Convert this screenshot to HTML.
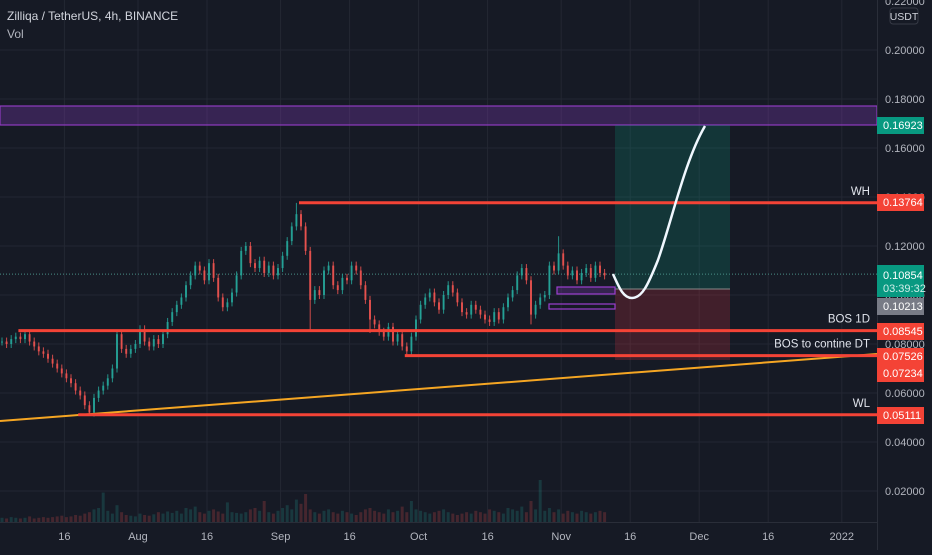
<!DOCTYPE html>
<html><head><meta charset="utf-8"><style>
html,body{margin:0;padding:0;background:#161a25;}
body{width:932px;height:550px;overflow:hidden;font-family:"Liberation Sans",sans-serif;}
svg text{font-family:"Liberation Sans",sans-serif;}
</style></head><body>
<svg id="chart" width="932" height="550" xmlns="http://www.w3.org/2000/svg">
<rect x="0" y="0" width="932" height="550" fill="#161a25"/>
<g id="grid"></g>
<g id="zones"></g>
<g id="vol"></g>
<g id="candles"></g>
<g id="draw"></g>
<g id="axis"></g>
<text x="7" y="20" fill="#d1d4dc" font-size="12">Zilliqa / TetherUS, 4h, BINANCE</text>
<text x="7" y="38" fill="#b2b5be" font-size="12">Vol</text>
</svg>
<script>
const priceTicks=[0.02,0.04,0.06,0.08,0.10,0.12,0.14,0.16,0.18,0.20,0.22];
const timeLabels=["16","Aug","16","Sep","16","Oct","16","Nov","16","Dec","16","2022"];
const timeLabelDays=[14,30,45,61,76,91,106,122,137,152,167,183];
const closes=[.081,.080,.082,.083,.082,.084,.081,.079,.077,.076,
.074,.072,.070,.068,.066,.064,.061,.059,.055,.052,
.058,.061,.063,.066,.070,.084,.078,.076,.078,.080,
.086,.081,.079,.082,.080,.084,.089,.093,.096,.099,
.104,.108,.112,.110,.106,.113,.107,.099,.095,.097,
.101,.108,.118,.120,.113,.111,.114,.109,.112,.108,
.111,.116,.122,.128,.133,.128,.118,.098,.102,.100,
.110,.112,.104,.102,.107,.106,.112,.110,.104,.098,
.090,.088,.085,.083,.087,.081,.084,.079,.077,.083,
.090,.096,.099,.101,.097,.094,.100,.104,.101,.097,
.093,.092,.096,.094,.092,.090,.089,.093,.090,.095,
.099,.102,.108,.111,.106,.092,.096,.099,.100,.112,
.110,.117,.112,.108,.110,.106,.109,.111,.107,.112,.109,.108];
const spikeIdx=[19,25,64,67,80,121,115];
const spikeVal=[.0511,.0855,.1376,.0855,.0845,.124,.088];
const volumes=[6,5,7,6,5,6,8,5,6,7,6,7,8,9,7,8,10,9,12,14,
18,20,42,16,12,24,14,10,9,8,12,10,9,11,14,12,15,13,16,12,
20,18,22,14,12,16,18,15,12,28,14,13,12,14,18,20,16,30,14,12,
16,20,24,18,32,26,40,18,14,12,16,18,14,12,16,14,12,10,14,18,
20,16,14,12,18,14,16,22,14,30,18,16,14,12,14,16,18,14,12,10,
12,14,12,16,14,12,18,16,14,12,20,18,16,22,14,30,18,60,16,20,
14,18,12,16,14,12,16,14,12,14,16,14];
const levels=[0.13764,0.08545,0.07526,0.05111];
const levelNames=["WH","BOS 1D","BOS to contine DT","WL"];
const levelStartDay=[65,4,88,17];
const NS="http://www.w3.org/2000/svg";
const PX=877, DAYW=4.6, VSCALE=0.7;
function y(p){return 540-p*2450;}
function x(d){return d*DAYW;}
function mk(parent,tag,attrs){const e=document.createElementNS(NS,tag);for(const k in attrs)e.setAttribute(k,attrs[k]);document.getElementById(parent).appendChild(e);return e;}
priceTicks.forEach(p=>{if(y(p)<8||y(p)>520)return;const l=mk('grid','line',{x1:0,x2:PX,y1:y(p),y2:y(p),stroke:'#232733','stroke-width':1});

});
timeLabelDays.forEach((d,i)=>{const l=mk('grid','line',{x1:x(d),x2:x(d),y1:0,y2:522,stroke:'#232733','stroke-width':1});


const t=mk('axis','text',{x:x(d),y:540,fill:'#b2b5be','font-size':11,'text-anchor':'middle'});t.textContent=timeLabels[i];

});
let z=mk('zones','rect',{x:0,y:106,width:PX,height:19,fill:'rgba(126,60,180,0.32)',stroke:'#8e3bbf','stroke-width':1.2});


z=mk('zones','rect',{x:615,y:125,width:115,height:164,fill:'rgba(8,153,129,0.22)'});


z=mk('zones','rect',{x:615,y:289,width:115,height:71,fill:'rgba(242,54,69,0.2)'});


z=mk('zones','line',{x1:615,x2:730,y1:289,y2:289,stroke:'#888','stroke-width':1});


z=mk('zones','line',{x1:0,x2:PX,y1:y(0.10854),y2:y(0.10854),stroke:'#4a8f86','stroke-width':1,'stroke-dasharray':'1 2'});


volumes.forEach((v,i)=>{const up=i===0||closes[i]>=closes[i-1];const h=v*VSCALE;const b=mk('vol','rect',{x:x(i)+0.5,y:522-h,width:3,height:h,fill:up?'rgba(38,166,154,0.22)':'rgba(239,83,80,0.22)'});

});
closes.forEach((c,i)=>{const o=i===0?c:closes[i-1];const up=c>=o;const col=up?'#26a69a':'#ef5350';
let hi=Math.max(o,c),lo=Math.min(o,c);const k=spikeIdx.indexOf(i);
let yh=y(hi)-4,yl=y(lo)+4;if(k>=0){if(spikeVal[k]>hi)yh=y(spikeVal[k]);else yl=y(spikeVal[k]);}
const w=mk('candles','line',{x1:x(i)+2,x2:x(i)+2,y1:yh,y2:yl,stroke:col,'stroke-width':1,opacity:0.85});


const b=mk('candles','rect',{x:x(i)+1,y:y(hi),width:2,height:Math.max(1,y(lo)-y(hi)),fill:col,opacity:0.85});

});
z=mk('draw','rect',{x:557,y:287,width:58,height:7,fill:'rgba(126,60,180,0.3)',stroke:'#9c3fd0','stroke-width':1.2});


z=mk('draw','rect',{x:549,y:304,width:66,height:5,fill:'none',stroke:'#9c3fd0','stroke-width':1.2});


z=mk('draw','line',{x1:0,y1:421,x2:PX,y2:354,stroke:'#f5a623','stroke-width':2});


levels.forEach((p,i)=>{const l=mk('draw','line',{x1:x(levelStartDay[i]),x2:PX,y1:y(p),y2:y(p),stroke:'#f44336','stroke-width':3});


const t=mk('draw','text',{x:870,y:y(p)-8,fill:'#e0e3eb','font-size':11.5,'text-anchor':'end'});t.textContent=levelNames[i];

});
z=mk('draw','path',{d:'M613,274 C620,290 624,298 632,298 C642,298 648,285 658,260 C672,220 685,160 705,126',fill:'none',stroke:'#f0f8ff','stroke-width':2.5});


z=mk('axis','line',{x1:PX+0.5,x2:PX+0.5,y1:0,y2:550,stroke:'#2a2e39','stroke-width':1});


z=mk('axis','line',{x1:0,x2:PX,y1:522.5,y2:522.5,stroke:'#2a2e39','stroke-width':1});


priceTicks.forEach(p=>{const t=mk('axis','text',{x:885,y:y(p)+4,fill:'#b2b5be','font-size':11});t.textContent=p.toFixed(5);

});
z=mk('axis','rect',{x:890,y:8,width:28,height:16,rx:3,fill:'#161a25',stroke:'#363a45'});


z=mk('axis','text',{x:904,y:20,fill:'#d1d4dc','font-size':10.5,'text-anchor':'middle'});z.textContent='USDT';


const tags=[[0.16923,125,'#089981'],[0.13764,202,'#f44336'],[0.10213,306,'#787b86'],[0.08545,331,'#f44336'],[0.07526,356,'#f44336'],[0.07234,373,'#f44336'],[0.05111,415,'#f44336']];
tags.forEach(a=>{const r=mk('axis','rect',{x:877,y:a[1]-8,width:47,height:17,fill:a[2]});


const t=mk('axis','text',{x:883,y:a[1]+4,fill:'#fff','font-size':11});t.textContent=a[0].toFixed(5);

});
z=mk('axis','rect',{x:877,y:265,width:47,height:32,fill:'#089981'});


z=mk('axis','text',{x:883,y:279,fill:'#fff','font-size':11});z.textContent='0.10854';


z=mk('axis','text',{x:883,y:292,fill:'#cfeee9','font-size':11});z.textContent='03:39:32';


</script>
</body></html>
